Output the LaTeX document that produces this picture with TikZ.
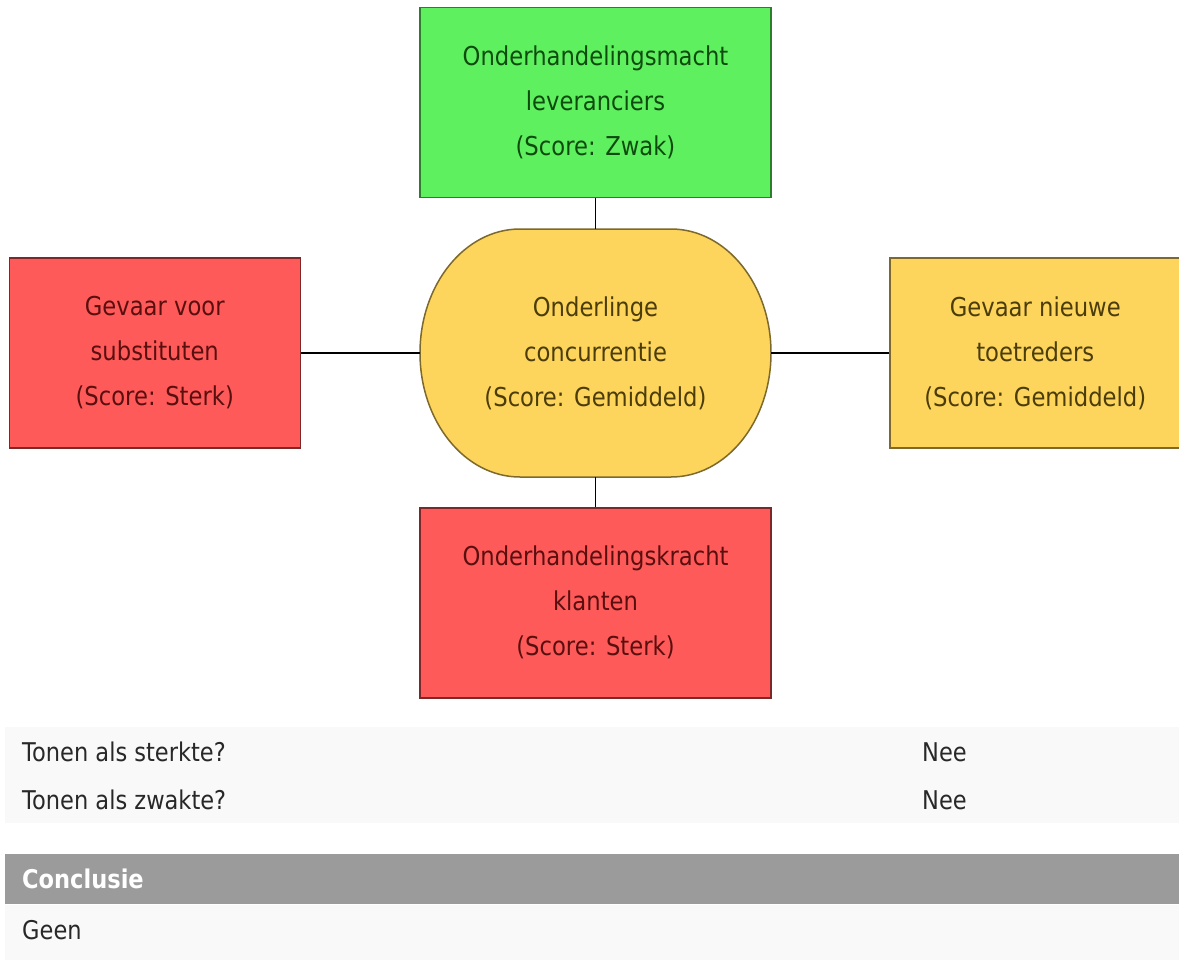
\documentclass[tikz,border=0pt]{standalone}
\usepackage{fontspec}
\setmainfont{DejaVu Sans}[FakeStretch=0.873]
\definecolor{greenfill}{RGB}{94, 240, 94}
\definecolor{greenline}{RGB}{45, 125, 45}
\definecolor{greentext}{RGB}{15, 75, 15}
\definecolor{redfill}{RGB}{255, 90, 90}
\definecolor{redline}{RGB}{125, 40, 40}
\definecolor{redtext}{RGB}{90, 15, 15}
\definecolor{yellowfill}{RGB}{253, 213, 92}
\definecolor{yellowline}{RGB}{125, 105, 45}
\definecolor{yellowtext}{RGB}{75, 60, 10}
\definecolor{rowgray}{RGB}{249, 249, 249}
\definecolor{headgray}{RGB}{155, 155, 155}
\definecolor{tabletext}{RGB}{40, 40, 40}
\usetikzlibrary{positioning,calc,backgrounds}

\begin{document}
\begin{tikzpicture}[x=1pt, y=-1pt,
            forcebox/.style={
                rectangle, line width=1.5pt, align=center,
                minimum width=351pt, minimum height=190pt,
                inner sep=0pt,
                font=\fontsize{26}{45}\selectfont
            },
            greenbox/.style={forcebox, fill=greenfill, draw=greenline, text=greentext},
            redbox/.style={forcebox, fill=redfill, draw=redline, text=redtext},
            yellowbox/.style={forcebox, fill=yellowfill, draw=yellowline, text=yellowtext},
            rowtext/.style={anchor=west, inner sep=0pt, text=tabletext,
                font=\fontsize{25.8}{30}\selectfont},
        ]
            \useasboundingbox (0,0) rectangle (1179,967);

            % centre: stadium shape drawn behind the text
            \node [forcebox, minimum height=248pt, outer sep=0pt, text=yellowtext] (rivalry) at (595.5,353)
                {Onderlinge\\concurrentie\\(Score: Gemiddeld)};
            \begin{scope}[on background layer, y=1pt]
                \draw[line width=1.5pt, fill=yellowfill, draw=yellowline]
                    ($(rivalry.north west)+(100pt,0pt)$) -- ($(rivalry.north east)+(-100pt,0pt)$)
                    arc[start angle=90, end angle=-90, x radius=100pt, y radius=124pt]
                    -- ($(rivalry.south west)+(100pt,0pt)$)
                    arc[start angle=270, end angle=90, x radius=100pt, y radius=124pt]
                    -- cycle;
            \end{scope}

            \node [greenbox] (suppliers) [ above= 31pt of rivalry ] {Onderhandelingsmacht\\leveranciers\\(Score: Zwak)};
            \draw[line width=1.4pt] (suppliers) -- (rivalry);

            \node [redbox, minimum width=291pt] (substitutes) [ left= 119pt of rivalry ] {Gevaar voor\\substituten\\(Score: Sterk)};
            \draw[line width=1.4pt] (substitutes) -- (rivalry);

            \node [yellowbox, minimum width=291pt] (entrants) [ right= 118pt of rivalry ] {Gevaar nieuwe\\toetreders\\(Score: Gemiddeld)};
            \draw[line width=1.4pt] (entrants) -- (rivalry);

            \node [redbox] (buyers) [ below= 30pt of rivalry ] {Onderhandelingskracht\\klanten\\(Score: Sterk)};
            \draw[line width=1.4pt] (buyers) -- (rivalry);

            % table below the diagram
            \fill[rowgray] (5,727) rectangle (1179,823);
            \fill[headgray] (5,854) rectangle (1179,904);
            \fill[rowgray] (5,905) rectangle (1179,960);

            \node [rowtext] (strength) at (22,752) {Tonen als sterkte?};
            \node [rowtext] (strengthval) at (922,752) {Nee};
            \node [rowtext] (weakness) at (22,800) {Tonen als zwakte?};
            \node [rowtext] (weaknessval) at (922,800) {Nee};
            \node [rowtext, text=white, font=\fontsize{25.8}{30}\selectfont\bfseries] (conclusion) at (22,879) {Conclusie};
            \node [rowtext] (none) at (22,930) {Geen};

\end{tikzpicture}
\end{document}
